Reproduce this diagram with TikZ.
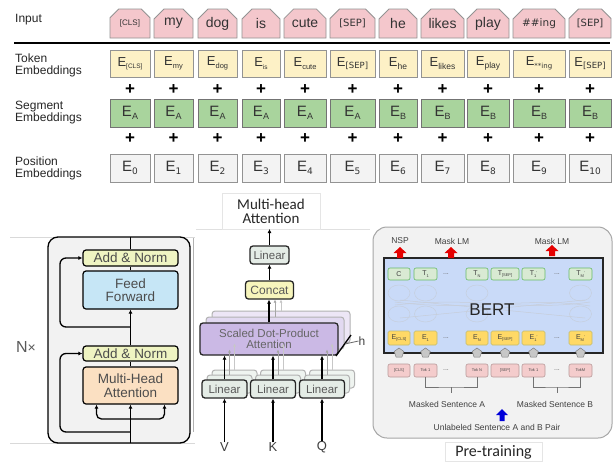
\documentclass[tikz,border=0pt]{standalone}
\usepackage{fontspec}
\setmainfont{Liberation Sans}
\newfontfamily\dejavu{DejaVu Sans}
\newfontfamily\carlito{Carlito}
\usetikzlibrary{shapes.misc,shapes.geometric,arrows.meta}
\newcommand\fs[1]{\fontsize{#1}{#1}\selectfont}
\newcommand\Etok[2][7.5]{\fs{13}E\raisebox{-2.5pt}{\fs{#1}#2}}
\newcommand\Eseg[1]{\fs{15}E\raisebox{-3.5pt}{\fs{9}#1}}
\newcommand\Tsm[2]{\fs{7}#1\raisebox{-1.5pt}{\fs{4}#2}}
\definecolor{inpink}{HTML}{F4C7CC}
\definecolor{tokyel}{HTML}{FDF1C6}
\definecolor{seggrn}{HTML}{A9D49D}
\definecolor{posgry}{HTML}{F3F3F3}
\definecolor{txt}{HTML}{333333}
\definecolor{anfill}{HTML}{EFF4C2}
\definecolor{fffill}{HTML}{C6E6F6}
\definecolor{mhafill}{HTML}{FBE0C2}
\definecolor{linfill}{HTML}{E4ECE6}
\definecolor{catfill}{HTML}{F7F5BC}
\definecolor{sdpafill}{HTML}{CBB9E5}
\definecolor{bertblue}{HTML}{C9DAF8}
\definecolor{tgreen}{HTML}{D9EAD3}
\definecolor{eyel}{HTML}{FFD966}
\definecolor{tokpink}{HTML}{F4CCCC}
\begin{document}
\begin{tikzpicture}[x=1pt,y=-1pt,
  inbox/.style={chamfered rectangle, chamfered rectangle corners={north west,north east},
    chamfered rectangle xsep=5pt, chamfered rectangle ysep=5pt, fill=inpink, draw=gray!85,
    line width=0.8pt, inner sep=0pt, outer sep=0pt, text=txt, minimum height=29pt},
  tokbox/.style={rectangle, fill=tokyel, draw=gray!85, line width=0.8pt, inner sep=0pt, text=txt, minimum height=27pt},
  segbox/.style={rectangle, fill=seggrn, draw=gray!90!black, line width=0.8pt, inner sep=0pt, text=txt, minimum height=28pt},
  posbox/.style={rectangle, fill=posgry, draw=gray!85, line width=0.8pt, inner sep=0pt, text=txt, minimum height=28pt},
  plus/.style={inner sep=0pt, font=\fs{17}\bfseries},
  rowlabel/.style={anchor=west, align=left, font=\fs{12}, text=black!85, inner sep=0pt},
  encbox/.style={rectangle, rounded corners=3pt, draw=black, line width=1.2pt, inner sep=0pt,
    text=black!70, align=center, font=\fs{13.5}, minimum width=95pt},
  enc/.style={line width=1.3pt, draw=black},
  arr/.style={line width=1.3pt, -{Latex[length=4pt,width=4pt]}},
  mbox/.style={rectangle, rounded corners=3pt, draw=black!85, line width=1.3pt, inner sep=0pt,
    text=black!65, align=center},
  ghost/.style={rectangle, rounded corners=3pt, draw=black!30, line width=1pt, fill=#1},
  garr/.style={line width=1pt, draw=black!35, -{Latex[length=3pt,width=3pt]}},
  tbox/.style={rectangle, rounded corners=2pt, fill=tgreen, draw=black!45!green!60, line width=0.6pt, inner sep=0pt, minimum height=12pt, text=black!75},
  ebox/.style={rectangle, rounded corners=1.5pt, fill=eyel, draw=black!40!yellow!70, line width=0.6pt, inner sep=0pt, minimum height=14pt, text=black!75},
  kbox/.style={rectangle, rounded corners=2pt, fill=tokpink, draw=red!30!black!40, line width=0.6pt, inner sep=0pt, minimum height=13pt, text=black!70, font=\fs{4}},
  pent/.style={regular polygon, regular polygon sides=5, minimum size=10pt, inner sep=0pt, fill=black!22, draw=black!50, line width=0.5pt},
  sm/.style={font=\fs{8.5}, text=black!75, inner sep=0pt},
]
\useasboundingbox (0,0) rectangle (613,461);
\fill[white] (0,0) rectangle (613,461);

% ---------------- top: embeddings ----------------
\node[rowlabel] (lin) at (15,20) {Input};
\node[rowlabel] (ltok) at (15,65) {Token\\Embeddings};
\node[rowlabel] (lseg) at (15,113) {Segment\\Embeddings};
\node[rowlabel] (lpos) at (15,168) {Position\\Embeddings};
\coordinate (rulel) at (14,43);
\coordinate (ruler) at (610,43);
\draw[line width=1.5pt] (rulel) -- (ruler);

\foreach \i/\a/\b/\t in {
  1/110/150/{\fs{8}[CLS]}, 2/154/193/{\fs{14}my}, 3/198/237/{\fs{14}dog},
  4/242/280/{\fs{14}is}, 5/284/326/{\fs{14}cute}, 6/330/375/{\dejavu\fs{10}[SEP]},
  7/379/417/{\fs{14}he}, 8/421/464/{\fs{14}likes}, 9/467/509/{\fs{14}play},
  10/513/565/{\dejavu\fs{10.5}\#\#ing}, 11/569/611/{\dejavu\fs{10}[SEP]}}
  \node[inbox, minimum width={\b-\a}] (in\i) at ({(\a+\b)/2},23.5) {\t};

\foreach \i/\a/\b/\t in {
  1/110/150/{\Etok[6.5]{[CLS]}}, 2/154/193/{\Etok{my}}, 3/198/237/{\Etok{dog}},
  4/242/280/{\Etok[6.5]{is}}, 5/284/326/{\Etok{cute}}, 6/330/375/{\Etok[8.5]{\dejavu [SEP]}},
  7/379/417/{\Etok[8.5]{he}}, 8/421/464/{\Etok[8.5]{likes}}, 9/467/509/{\Etok[8.5]{play}},
  10/513/565/{\Etok[7]{\dejavu **ing}}, 11/569/611/{\Etok[8.5]{\dejavu [SEP]}}}
  \node[tokbox, minimum width={\b-\a}] (tok\i) at ({(\a+\b)/2},63.5) {\t};

\foreach \i/\a/\b/\t in {
  1/110/150/A, 2/154/193/A, 3/198/237/A, 4/242/280/A, 5/284/326/A, 6/330/375/A,
  7/379/417/B, 8/421/464/B, 9/467/509/B, 10/513/565/B, 11/569/611/B}
  \node[segbox, minimum width={\b-\a}] (seg\i) at ({(\a+\b)/2},113) {\Eseg{\t}};

\foreach \i/\a/\b/\t in {
  1/110/150/0, 2/154/193/1, 3/198/237/2, 4/242/280/3, 5/284/326/4, 6/330/375/5,
  7/379/417/6, 8/421/464/7, 9/467/509/8, 10/513/565/9, 11/569/611/10}
  \node[posbox, minimum width={\b-\a}] (pos\i) at ({(\a+\b)/2},168) {\Eseg{\dejavu\t}};

\foreach \i/\c in {1/130,2/173.5,3/217.5,4/261,5/305,6/352.5,7/398,8/442.5,9/488,10/539,11/590}{
  \node[plus] (pa\i) at (\c,89.5) {+};
  \node[plus] (pb\i) at (\c,138.5) {+};
}

% ---------------- encoder block ----------------
\draw[black!15, line width=0.6pt] (10,237) -- (195,237);
\draw[black!15, line width=0.6pt] (10,443) -- (195,443);
\node[rectangle, rounded corners=10pt, fill=black!5, draw=black, line width=1.3pt,
  minimum width=142pt, minimum height=206pt, inner sep=0pt] (encblk) at (119,340) {};
\node[font=\fs{16}, text=black!65, inner sep=0pt] (nx) at (26,347) {N\raisebox{0.5pt}{\fs{14}×}};

\node[encbox, fill=anfill, minimum height=16pt] (an2) at (130.5,258) {Add \& Norm};
\node[encbox, fill=fffill, minimum height=38pt] (ff) at (130.5,290) {Feed\\Forward};
\node[encbox, fill=anfill, minimum height=15pt] (an1) at (130.5,353.5) {Add \& Norm};
\node[encbox, fill=mhafill, minimum height=37pt] (mha) at (130.5,385.5) {Multi-Head\\Attention};

\coordinate (ebot) at (130.5,443);
\coordinate (etop) at (130.5,237);
\coordinate (res1) at (130.5,432);
\coordinate (res2) at (130.5,327);
\coordinate (mhab) at (130.5,419);
\draw[arr] (ebot) -- (mha.south);
\draw[enc] (mha.north) -- (an1.south);
\draw[arr] (an1.north) -- (ff.south);
\draw[enc] (ff.north) -- (an2.south);
\draw[enc] (an2.north) -- (etop);
\draw[arr, rounded corners=6pt] (res1) -| (60,353.5) -- (an1.west);
\draw[arr, rounded corners=6pt] (res2) -| (60,258) -- (an2.west);
\draw[arr, rounded corners=5pt] (mhab) -| ([xshift=-34pt]mha.south);
\draw[arr, rounded corners=5pt] (mhab) -| ([xshift=34pt]mha.south);

% ---------------- multi-head attention ----------------
\draw[black!30, line width=0.8pt] (193,238) -- (193,432);
\draw[black!12, line width=0.6pt] (196,229) -- (370,229);
\node[rectangle, draw=black!10, fill=white, line width=0.6pt, minimum width=98pt, minimum height=36pt,
  inner sep=0pt, align=center, font=\carlito\fs{15}, text=black!85] (mhtitle) at (271,211) {Multi-head\\[-1pt]Attention};

\node[mbox, fill=linfill, minimum width=39pt, minimum height=18pt, font=\fs{11.5}] (lintop) at (269.5,255) {Linear};
\node[mbox, fill=catfill, minimum width=48pt, minimum height=18pt, font=\fs{12}] (concat) at (269.5,290) {Concat};
\node[ghost=sdpafill!35, minimum width=138pt, minimum height=32pt] (sdpag2) at (281,327) {};
\node[ghost=sdpafill!55, minimum width=138pt, minimum height=32pt] (sdpag1) at (275,333) {};
\node[mbox, fill=sdpafill, minimum width=138pt, minimum height=32pt, font=\fs{11.5}, text=black!60] (sdpa) at (269,339) {Scaled Dot-Product\\Attention};

\foreach \n/\c in {1/224.5,2/273,3/322}{
  \node[ghost=linfill!60, minimum width=45pt, minimum height=18pt] (lg2\n) at (\c+10,379) {};
  \node[ghost=linfill!80, minimum width=45pt, minimum height=18pt] (lg1\n) at (\c+5,384) {};
  \node[mbox, fill=linfill, minimum width=45pt, minimum height=18pt, font=\fs{11.5}] (lin\n) at (\c,389) {Linear};
  \draw[arr] (lin\n.north) -- (lin\n.north |- sdpa.south);
  \draw[garr] (lg1\n.north) -- (lg1\n.north |- sdpag1.south);
  \draw[garr, draw=black!22] (lg2\n.north) -- (lg2\n.north |- sdpag2.south);
}
\node[font=\fs{13}, text=black!75, inner sep=0pt] (vv) at (224.5,447) {V};
\node[font=\fs{13}, text=black!75, inner sep=0pt] (kk) at (273,447) {K};
\node[font=\fs{13}, text=black!75, inner sep=0pt] (qq) at (322,447) {Q};
\draw[arr] (vv.north) -- (lin1.south);
\draw[arr] (kk.north) -- (lin2.south);
\draw[arr] (qq.north) -- (lin3.south);
\draw[arr] (sdpa.north) -- (sdpa.north |- concat.south);
\coordinate (g1s) at (275,317);
\coordinate (g2s) at (281,311);
\draw[garr] (g1s) -- (g1s |- concat.south);
\draw[garr, draw=black!22] (g2s) -- (g2s |- concat.south);
\draw[arr] (concat.north) -- (lintop.south);
\coordinate (mhout) at (269.5,229);
\draw[arr] (lintop.north) -- (mhout);
\coordinate (hs1) at (336,356);
\coordinate (hs2) at (351,335);
\draw[line width=1.3pt] (hs1) -- (hs2);
\node[font=\fs{12}, text=black!75, inner sep=0pt] (hh) at (362,341) {h};
\coordinate (ht) at (345,344);
\draw[line width=0.8pt, black!60] (ht) -- (hh.west);

% ---------------- pre-training ----------------
\node[rectangle, rounded corners=14pt, fill=black!5, draw=black!35, line width=1pt,
  minimum width=239pt, minimum height=211pt, inner sep=0pt] (ptbox) at (492.5,332.5) {};
\node[rectangle, fill=white, draw=black!10, line width=0.6pt, minimum width=97pt, minimum height=19pt,
  inner sep=0pt, font=\carlito\fs{16}, text=black!85] (ptlabel) at (493.5,452) {Pre-training};

\node[rectangle, fill=bertblue, draw=black!85, line width=1.3pt, minimum width=219pt, minimum height=95pt, inner sep=0pt] (bert) at (493.5,305.5) {};
\foreach \c in {399,425.5,477,580.5}{
  \draw[bertblue!80!black!60, line width=0.5pt] (\c,293) ellipse (11 and 8);
  \draw[bertblue!80!black!60, line width=0.5pt] (\c,314) ellipse (11 and 8);
}
\draw[bertblue!75!black!55, line width=0.5pt] (395,305) .. controls (480,296) and (520,312) .. (590,302);
\draw[bertblue!75!black!55, line width=0.5pt] (395,302) .. controls (470,312) and (530,296) .. (590,306);
\draw[bertblue!75!black!55, line width=0.5pt] (400,300) -- (585,318);
\draw[bertblue!75!black!55, line width=0.5pt] (400,318) -- (585,300);
\node[font=\fs{17}, text=black!85, inner sep=0pt] (berttext) at (492,310) {BERT};

\foreach \n/\a/\b/\t in {1/388/410/{\fs{7}C}, 2/414/437/{\Tsm{T}{1}}, 3/466/488/{\Tsm{T}{N}},
  4/491/519/{\Tsm{T}{[SEP]}}, 5/522/545/{\Tsm{T}{1}\raisebox{1.5pt}{\fs{4}'}}, 6/569/592/{\Tsm{T}{M}\raisebox{1.5pt}{\fs{4}'}}}
  \node[tbox, minimum width={\b-\a}] (t\n) at ({(\a+\b)/2},274) {\t};
\foreach \n/\a/\b/\t in {1/388/410/{\Tsm{E}{[CLS]}}, 2/414/437/{\Tsm{E}{1}}, 3/466/488/{\Tsm{E}{N}},
  4/491/519/{\Tsm{E}{[SEP]}}, 5/522/545/{\Tsm{E}{1}\raisebox{1.5pt}{\fs{4}'}}, 6/569/592/{\Tsm{E}{M}\raisebox{1.5pt}{\fs{4}'}}}
  \node[ebox, minimum width={\b-\a}] (e\n) at ({(\a+\b)/2},338) {\t};
\foreach \n/\a/\b/\t in {1/388/410/[CLS], 2/414/437/Tok 1, 3/466/488/Tok N,
  4/491/519/[SEP], 5/522/545/Tok 1, 6/569/592/TokM}{
  \node[kbox, minimum width={\b-\a}] (k\n) at ({(\a+\b)/2},370.5) {\t};
  \node[pent] (p\n) at ({(\a+\b)/2},353) {};
}
\foreach \y/\s in {274/td, 338/ed, 370.5/kd}{
  \node[font=\fs{7}, text=black!60, inner sep=0pt] (\s1) at (446,\y) {...};
  \node[font=\fs{7}, text=black!60, inner sep=0pt] (\s2) at (557,\y) {...};
}
\coordinate (bra) at (451.25,387);
\coordinate (brat) at (451.25,393);
\coordinate (brb) at (557,387);
\coordinate (brbt) at (557,393);
\draw[black!55, line width=0.8pt] (k2.south) |- (bra) -| (k3.south);
\draw[black!55, line width=0.8pt] (bra) -- (brat);
\draw[black!55, line width=0.8pt] (k5.south) |- (brb) -| (k6.south);
\draw[black!55, line width=0.8pt] (brb) -- (brbt);
\node[sm] (msa) at (447,404) {Masked Sentence A};
\node[sm] (msb) at (555,404) {Masked Sentence B};
\node[sm] (unl) at (497,427) {Unlabeled Sentence A and B Pair};
\fill[blue!85!black] (499.5,421) -- (499.5,415) -- (496,415) -- (502,409) -- (508,415) -- (504.5,415) -- (504.5,421) -- cycle;

\node[sm, font=\fs{8.5}] (nsp) at (400,241) {NSP};
\node[sm, font=\fs{8.5}] (mlm1) at (452,241) {Mask LM};
\node[sm, font=\fs{8.5}] (mlm2) at (552,241) {Mask LM};
\foreach \x/\yb in {400/258, 451/258, 552/256}
  \fill[red!90!black] (\x-3,\yb) -- (\x-3,\yb-5) -- (\x-6.5,\yb-5) -- (\x,\yb-11) -- (\x+6.5,\yb-5) -- (\x+3,\yb-5) -- (\x+3,\yb) -- cycle;
\end{tikzpicture}
\end{document}
